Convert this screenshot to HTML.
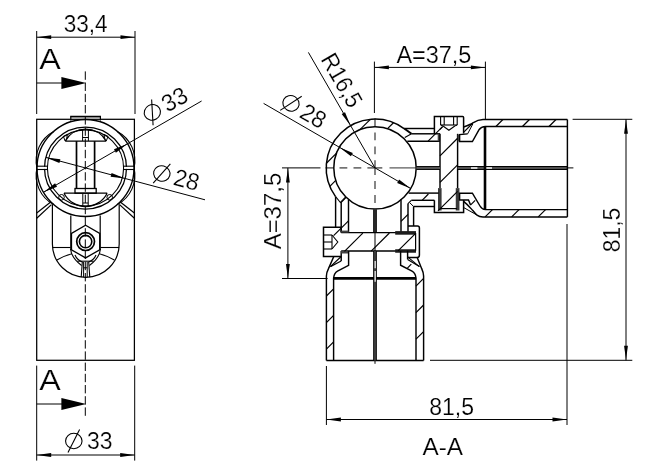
<!DOCTYPE html>
<html><head><meta charset="utf-8"><title>Drawing</title>
<style>html,body{margin:0;padding:0;background:#fff;}svg{display:block;will-change:transform;opacity:0.999}text{font-family:"Liberation Sans",sans-serif;fill:#000;stroke:#fff;stroke-width:0.2px}</style>
</head><body>
<svg width="650" height="473" viewBox="0 0 650 473" stroke="#000" stroke-linecap="butt" fill="none">
<rect x="0" y="0" width="650" height="473" fill="#fff" stroke="none"/>
<g id="left">
<rect x="36.7" y="119.3" width="97.7" height="241.0" stroke-width="1.25" fill="none"/>
<line x1="36.70" y1="31.00" x2="36.70" y2="114.00" stroke-width="1.0" />
<line x1="135.00" y1="31.00" x2="135.00" y2="114.00" stroke-width="1.0" />
<line x1="36.70" y1="37.20" x2="135.00" y2="37.20" stroke-width="1.0" />
<polygon points="36.70,37.20 51.20,35.30 51.20,39.10" fill="#000" stroke="none"/>
<polygon points="135.00,37.20 120.50,39.10 120.50,35.30" fill="#000" stroke="none"/>
<text x="85.70" y="32.20" font-size="24" text-anchor="middle" textLength="44" lengthAdjust="spacingAndGlyphs" >33,4</text>
<text x="39.20" y="69.20" font-size="30" text-anchor="start" textLength="21.5" lengthAdjust="spacingAndGlyphs" >A</text>
<line x1="36.70" y1="83.00" x2="63.00" y2="83.00" stroke-width="1.0" />
<polygon points="61.4,77 86.2,83 61.4,89" fill="#000" stroke="none"/>
<line x1="85.30" y1="415.80" x2="85.30" y2="71.00" stroke-width="1.0" stroke-dasharray="8.4 2.8"/>
<line x1="36.70" y1="365.60" x2="36.70" y2="460.60" stroke-width="1.0" />
<line x1="134.70" y1="365.60" x2="134.70" y2="460.60" stroke-width="1.0" />
<line x1="36.70" y1="455.00" x2="134.70" y2="455.00" stroke-width="1.0" />
<polygon points="36.70,455.00 51.20,453.10 51.20,456.90" fill="#000" stroke="none"/>
<polygon points="134.70,455.00 120.20,456.90 120.20,453.10" fill="#000" stroke="none"/>
<g stroke-width="1.1" fill="none"><ellipse cx="73.80" cy="441.00" rx="8.24" ry="7.72"/><line x1="68.00" y1="452.50" x2="79.60" y2="429.50"/></g>
<text x="87.00" y="449.30" font-size="24" text-anchor="start" textLength="25.5" lengthAdjust="spacingAndGlyphs" >33</text>
<text x="39.20" y="390.20" font-size="30" text-anchor="start" textLength="21.5" lengthAdjust="spacingAndGlyphs" >A</text>
<line x1="36.70" y1="404.00" x2="63.00" y2="404.00" stroke-width="1.0" />
<polygon points="61.4,398 86.2,404 61.4,410" fill="#000" stroke="none"/>
<line x1="70.20" y1="116.60" x2="101.00" y2="116.60" stroke-width="1.7" />
<line x1="70.80" y1="116.60" x2="70.80" y2="120.50" stroke-width="1.2" />
<line x1="100.40" y1="116.60" x2="100.40" y2="120.50" stroke-width="1.2" />
<circle cx="85.50" cy="168.00" r="48.50" stroke-width="1.35" fill="none" />
<path d="M37.00,168.00 A33,33 0 0 1 53.68,131.40" stroke-width="1.15" fill="none" />
<path d="M37.00,168.00 A33,33 0 0 0 53.68,204.60" stroke-width="1.15" fill="none" />
<path d="M134.00,168.00 A33,33 0 0 0 117.32,131.40" stroke-width="1.15" fill="none" />
<path d="M134.00,168.00 A33,33 0 0 1 117.32,204.60" stroke-width="1.15" fill="none" />
<circle cx="85.50" cy="168.00" r="41.00" stroke-width="1.25" fill="none" />
<circle cx="85.50" cy="168.00" r="38.10" stroke-width="1.1" fill="none" />
<rect x="37.8" y="166.8" width="8.799999999999999" height="2.1" fill="#fff" stroke="none"/>
<line x1="37.00" y1="166.20" x2="47.40" y2="166.20" stroke-width="1.1" />
<line x1="37.00" y1="169.50" x2="47.40" y2="169.50" stroke-width="1.1" />
<rect x="124.39999999999999" y="166.8" width="8.800000000000006" height="2.1" fill="#fff" stroke="none"/>
<line x1="123.60" y1="166.20" x2="134.00" y2="166.20" stroke-width="1.1" />
<line x1="123.60" y1="169.50" x2="134.00" y2="169.50" stroke-width="1.1" />
<path d="M65.2,141.1 L106.2,141.1 M65.2,141.1 A23.6,23.6 0 0 1 106.2,141.1" stroke-width="1.3" fill="none" />
<path d="M65.2,141.1 L63.4,136.4 L67.4,134.4 L66.6,138.8 M106.2,141.1 L108,136.4 L104,134.4 L104.8,138.8" stroke-width="1.0" fill="none" />
<line x1="82.60" y1="129.40" x2="82.60" y2="141.00" stroke-width="1.0" />
<line x1="88.40" y1="129.40" x2="88.40" y2="141.00" stroke-width="1.0" />
<line x1="82.60" y1="137.50" x2="88.40" y2="137.50" stroke-width="1.0" />
<line x1="76.50" y1="141.10" x2="76.50" y2="188.60" stroke-width="1.7" />
<line x1="94.60" y1="141.10" x2="94.60" y2="188.60" stroke-width="1.7" />
<rect x="75" y="188.5" width="21.2" height="4.7" stroke-width="1.3" fill="none"/>
<path d="M64,193.2 L107.2,193.2 M64,193.2 A24.2,24.2 0 0 0 107.2,193.2" stroke-width="1.3" fill="none" />
<circle cx="61.50" cy="197.30" r="2.80" stroke-width="1.0" fill="none" />
<circle cx="109.70" cy="197.30" r="2.80" stroke-width="1.0" fill="none" />
<line x1="82.80" y1="193.50" x2="82.80" y2="207.00" stroke-width="1.0" />
<line x1="88.20" y1="193.50" x2="88.20" y2="207.00" stroke-width="1.0" />
<line x1="82.80" y1="203.00" x2="88.20" y2="203.00" stroke-width="1.0" />
<line x1="36.70" y1="213.00" x2="50.40" y2="202.30" stroke-width="1.2" />
<line x1="36.70" y1="218.30" x2="51.40" y2="204.60" stroke-width="1.2" />
<line x1="134.40" y1="213.00" x2="120.60" y2="202.30" stroke-width="1.2" />
<line x1="134.40" y1="218.30" x2="119.60" y2="204.60" stroke-width="1.2" />
<line x1="52.40" y1="204.20" x2="52.40" y2="244.00" stroke-width="1.2" />
<line x1="119.20" y1="204.20" x2="119.20" y2="244.00" stroke-width="1.2" />
<line x1="70.80" y1="215.60" x2="70.80" y2="250.00" stroke-width="1.2" />
<line x1="100.20" y1="215.60" x2="100.20" y2="250.00" stroke-width="1.2" />
<path d="M52.4,243.9 A33.4,33.4 0 0 0 119.2,243.9" stroke-width="1.2" fill="none" />
<line x1="52.40" y1="247.50" x2="70.60" y2="247.50" stroke-width="1.1" />
<line x1="100.40" y1="247.50" x2="119.20" y2="247.50" stroke-width="1.1" />
<path d="M56.9,260 A56.4,56.4 0 0 1 72,253.8" stroke-width="1.1" fill="none" />
<path d="M99.2,253.8 A56.4,56.4 0 0 1 114.3,260" stroke-width="1.1" fill="none" />
<polygon points="85.60,225.30 99.72,233.45 99.72,249.75 85.60,257.90 71.48,249.75 71.48,233.45" stroke-width="1.3" fill="none" />
<circle cx="85.60" cy="241.60" r="8.90" stroke-width="1.7" fill="none" />
<circle cx="85.60" cy="241.60" r="6.20" stroke-width="1.6" fill="none" />
<path d="M70.6,249 Q71.5,258 81.6,265.5" stroke-width="1.1" fill="none" />
<path d="M100.4,249 Q99.5,258 89.4,265.5" stroke-width="1.1" fill="none" />
<path d="M75,255 Q77,260 82.4,262" stroke-width="1.1" fill="none" />
<path d="M96,255 Q94,260 88.6,262" stroke-width="1.1" fill="none" />
<line x1="77.20" y1="261.20" x2="93.60" y2="261.20" stroke-width="1.1" />
<polyline points="82.30,262.00 81.20,277.20" stroke-width="1.1" fill="none" />
<polyline points="88.70,262.00 89.80,277.20" stroke-width="1.1" fill="none" />
<line x1="83.60" y1="262.00" x2="83.60" y2="277.20" stroke-width="1.0" />
<line x1="87.20" y1="262.00" x2="87.20" y2="277.20" stroke-width="1.0" />
<line x1="83.60" y1="267.80" x2="87.20" y2="267.80" stroke-width="1.0" />
<line x1="43.50" y1="192.25" x2="201.60" y2="101.00" stroke-width="1.0" />
<polygon points="43.50,192.25 55.11,183.35 57.01,186.65" fill="#000" stroke="none"/>
<polygon points="127.50,143.75 115.89,152.65 113.99,149.35" fill="#000" stroke="none"/>
<g transform="rotate(-30 149.00 123.50)">
<g stroke-width="1.1" fill="none"><ellipse cx="157.50" cy="115.50" rx="8.24" ry="7.72"/><line x1="151.70" y1="127.00" x2="163.30" y2="104.00"/></g>
<text x="170.50" y="123.50" font-size="24" text-anchor="start" textLength="25.5" lengthAdjust="spacingAndGlyphs" >33</text>
</g>
<line x1="45.90" y1="157.39" x2="205.00" y2="199.80" stroke-width="1.0" />
<polygon points="45.90,157.39 60.39,159.31 59.41,162.98" fill="#000" stroke="none"/>
<polygon points="125.10,178.61 110.61,176.69 111.59,173.02" fill="#000" stroke="none"/>
<g transform="rotate(15 151.50 179.00)">
<g stroke-width="1.1" fill="none"><ellipse cx="160.00" cy="171.00" rx="8.24" ry="7.72"/><line x1="154.20" y1="182.50" x2="165.80" y2="159.50"/></g>
<text x="173.00" y="179.00" font-size="24" text-anchor="start" textLength="25.5" lengthAdjust="spacingAndGlyphs" >28</text>
</g>
</g>
<g id="right">
<line x1="325.50" y1="167.90" x2="333.30" y2="167.90" stroke-width="1.3" stroke="#444"/>
<line x1="339.50" y1="167.90" x2="347.30" y2="167.90" stroke-width="1.3" stroke="#444"/>
<line x1="353.50" y1="167.90" x2="361.30" y2="167.90" stroke-width="1.3" stroke="#444"/>
<line x1="367.40" y1="167.90" x2="382.30" y2="167.90" stroke-width="1.3" stroke="#444"/>
<line x1="389.50" y1="167.90" x2="417.00" y2="167.90" stroke-width="1.1" stroke="#444"/>
<line x1="567.00" y1="167.90" x2="573.40" y2="167.90" stroke-width="1.0" />
<line x1="375.00" y1="118.50" x2="375.00" y2="126.30" stroke-width="1.3" stroke="#444"/>
<line x1="375.00" y1="132.50" x2="375.00" y2="140.30" stroke-width="1.3" stroke="#444"/>
<line x1="375.00" y1="146.50" x2="375.00" y2="154.30" stroke-width="1.3" stroke="#444"/>
<line x1="375.00" y1="160.30" x2="375.00" y2="174.90" stroke-width="1.3" stroke="#444"/>
<line x1="375.00" y1="181.10" x2="375.00" y2="188.90" stroke-width="1.3" stroke="#444"/>
<line x1="375.00" y1="195.10" x2="375.00" y2="202.90" stroke-width="1.3" stroke="#444"/>
<line x1="375.00" y1="232.00" x2="375.00" y2="252.00" stroke-width="1.0" />
<line x1="375.00" y1="360.00" x2="375.00" y2="363.80" stroke-width="1.0" />
<path d="M404.06,128.69 A48.8,48.8 0 0 0 335.56,196.63" stroke-width="1.5" fill="none" />
<circle cx="375.00" cy="167.90" r="41.20" stroke-width="1.5" fill="none" />
<line x1="326.42" y1="163.23" x2="336.55" y2="153.10" stroke-width="1.2" />
<line x1="360.20" y1="129.45" x2="370.33" y2="119.32" stroke-width="1.2" />
<line x1="329.83" y1="186.37" x2="335.76" y2="180.44" stroke-width="1.2" />
<line x1="387.54" y1="128.66" x2="393.47" y2="122.73" stroke-width="1.2" />
<line x1="340.42" y1="202.33" x2="345.79" y2="196.96" stroke-width="1.2" />
<line x1="404.20" y1="128.50" x2="434.40" y2="128.50" stroke-width="1.45" />
<line x1="404.20" y1="128.50" x2="411.50" y2="133.80" stroke-width="2.0" />
<line x1="411.50" y1="133.80" x2="440.00" y2="133.80" stroke-width="1.45" />
<line x1="411.50" y1="133.80" x2="404.80" y2="137.60" stroke-width="1.1" />
<line x1="407.30" y1="141.30" x2="439.80" y2="141.30" stroke-width="1.45" />
<line x1="438.90" y1="133.80" x2="438.90" y2="141.30" stroke-width="2.4" stroke="#444"/>
<line x1="442.60" y1="126.70" x2="428.10" y2="141.20" stroke-width="1.2" />
<path d="M434.4,133.8 L434.4,116.5 L462.6,116.5 Q463.6,116.5 463.6,117.5 L463.6,133.6" stroke-width="1.5" fill="none" />
<line x1="440.60" y1="116.50" x2="440.60" y2="125.00" stroke-width="1.1" />
<line x1="444.20" y1="116.50" x2="444.20" y2="125.00" stroke-width="1.1" />
<line x1="453.60" y1="116.50" x2="453.60" y2="125.00" stroke-width="1.1" />
<line x1="457.20" y1="116.50" x2="457.20" y2="125.00" stroke-width="1.1" />
<line x1="440.60" y1="125.00" x2="457.20" y2="125.00" stroke-width="1.1" />
<polyline points="443.00,126.00 448.90,130.20 454.80,126.00" stroke-width="1.1" fill="none" />
<line x1="440.60" y1="125.00" x2="443.00" y2="126.00" stroke-width="1.0" />
<line x1="457.20" y1="125.00" x2="454.80" y2="126.00" stroke-width="1.0" />
<line x1="440.00" y1="133.80" x2="440.00" y2="188.00" stroke-width="1.45" />
<line x1="457.60" y1="133.80" x2="457.60" y2="188.00" stroke-width="1.45" />
<line x1="439.80" y1="188.10" x2="439.80" y2="210.50" stroke-width="3.6" stroke="#3a3a3a"/>
<line x1="457.60" y1="188.10" x2="457.60" y2="210.50" stroke-width="3.7" stroke="#3a3a3a"/>
<line x1="458.70" y1="134.50" x2="458.70" y2="141.40" stroke-width="2.2" stroke="#444"/>
<line x1="457.60" y1="138.25" x2="440.00" y2="155.85" stroke-width="1.2" />
<line x1="457.60" y1="164.80" x2="440.00" y2="182.40" stroke-width="1.2" />
<line x1="457.60" y1="191.35" x2="438.00" y2="210.95" stroke-width="1.2" />
<line x1="442.60" y1="126.70" x2="440.00" y2="129.30" stroke-width="1.2" />
<line x1="416.40" y1="168.00" x2="440.00" y2="168.00" stroke-width="3.9" />
<line x1="416.40" y1="168.00" x2="440.00" y2="168.00" stroke-width="1.2" stroke="#8a8a8a"/>
<line x1="457.60" y1="168.00" x2="567.40" y2="168.00" stroke-width="4.0" />
<line x1="457.60" y1="168.00" x2="567.40" y2="168.00" stroke-width="1.5" stroke="#6a6a6a"/>
<line x1="457.60" y1="168.00" x2="567.40" y2="168.00" stroke="#fff" stroke-width="1.5" stroke-dasharray="0 13.4 6.4 8.1 6.5 300"/>
<path d="M567.4,119.5 L483,119.5 C477,119.6 474.5,122 471,124 C468,125.5 466.5,126.2 463.6,127" stroke-width="1.45" fill="none" />
<path d="M567.4,126.5 L485.5,126.5 C481.5,126.6 480.5,127.5 479.2,129.5 L472.4,141.5 L459.6,141.5 L459.6,134.6 L467.6,133.9" stroke-width="1.45" fill="none" />
<line x1="485.00" y1="126.50" x2="485.00" y2="209.20" stroke-width="2.6" />
<line x1="567.40" y1="119.50" x2="567.40" y2="216.90" stroke-width="1.45" />
<line x1="472.60" y1="123.25" x2="463.80" y2="132.05" stroke-width="1.2" />
<line x1="467.60" y1="133.90" x2="472.80" y2="124.00" stroke-width="1.0" />
<line x1="502.90" y1="119.50" x2="495.90" y2="126.50" stroke-width="1.2" />
<line x1="529.45" y1="119.50" x2="522.45" y2="126.50" stroke-width="1.2" />
<line x1="556.00" y1="119.50" x2="549.00" y2="126.50" stroke-width="1.2" />
<path d="M567.4,216.9 L483,216.9 C477.5,216.8 475.5,214 472.8,210.5 C470,207.5 466.5,203.5 463.6,201.3" stroke-width="1.45" fill="none" />
<path d="M567.4,209.6 L485.5,209.6 C482.5,209.5 481.2,208 480,206 L472.4,193.2 L459.6,193.2 L459.6,200 L468.5,200 L470.6,205" stroke-width="1.45" fill="none" />
<line x1="475.20" y1="200.30" x2="470.40" y2="205.10" stroke-width="1.2" />
<line x1="463.60" y1="207.50" x2="476.00" y2="214.50" stroke-width="1.0" />
<line x1="492.45" y1="209.60" x2="485.15" y2="216.90" stroke-width="1.2" />
<line x1="519.00" y1="209.60" x2="511.70" y2="216.90" stroke-width="1.2" />
<line x1="545.55" y1="209.60" x2="538.25" y2="216.90" stroke-width="1.2" />
<path d="M434.4,200.3 L434.4,212.4 L463.6,212.4 L463.6,200" stroke-width="1.5" fill="none" />
<line x1="441.00" y1="208.60" x2="457.00" y2="208.60" stroke-width="1.2" />
<line x1="408.60" y1="193.10" x2="438.70" y2="193.10" stroke-width="1.45" />
<line x1="411.30" y1="200.30" x2="434.40" y2="200.30" stroke-width="1.45" />
<line x1="413.60" y1="206.50" x2="434.40" y2="206.50" stroke-width="1.45" />
<line x1="411.30" y1="200.30" x2="408.00" y2="203.60" stroke-width="1.1" />
<line x1="413.60" y1="206.50" x2="410.00" y2="203.00" stroke-width="1.0" />
<line x1="428.40" y1="194.00" x2="422.10" y2="200.30" stroke-width="1.2" />
<line x1="401.00" y1="199.40" x2="401.00" y2="232.60" stroke-width="1.45" />
<line x1="408.00" y1="203.60" x2="408.00" y2="232.60" stroke-width="1.45" />
<line x1="413.60" y1="206.50" x2="413.60" y2="226.00" stroke-width="1.45" />
<line x1="408.00" y1="214.40" x2="401.00" y2="221.40" stroke-width="1.2" />
<line x1="335.60" y1="196.60" x2="335.60" y2="227.30" stroke-width="1.45" />
<line x1="341.20" y1="202.60" x2="341.20" y2="232.60" stroke-width="1.45" />
<line x1="348.50" y1="199.60" x2="348.50" y2="232.60" stroke-width="1.45" />
<line x1="335.60" y1="196.60" x2="340.80" y2="203.00" stroke-width="1.1" />
<line x1="340.80" y1="203.00" x2="345.80" y2="197.60" stroke-width="1.1" />
<line x1="348.50" y1="220.80" x2="333.60" y2="235.70" stroke-width="1.2" />
<line x1="375.00" y1="209.40" x2="375.00" y2="232.60" stroke-width="3.7" />
<line x1="375.00" y1="209.40" x2="375.00" y2="232.60" stroke-width="0.6" stroke="#888"/>
<path d="M341.2,227.3 L323.5,227.3 L323.5,256.5 L341.2,256.5" stroke-width="1.5" fill="none" />
<line x1="341.20" y1="232.60" x2="415.60" y2="232.60" stroke-width="1.45" />
<line x1="341.20" y1="250.90" x2="415.60" y2="250.90" stroke-width="1.45" />
<line x1="341.20" y1="227.30" x2="341.20" y2="232.60" stroke-width="1.45" />
<line x1="341.20" y1="250.90" x2="341.20" y2="261.00" stroke-width="1.45" />
<line x1="323.50" y1="235.00" x2="332.00" y2="235.00" stroke-width="1.1" />
<line x1="323.50" y1="242.00" x2="332.00" y2="242.00" stroke-width="1.1" />
<line x1="323.50" y1="249.00" x2="332.00" y2="249.00" stroke-width="1.1" />
<line x1="332.00" y1="235.00" x2="332.00" y2="249.00" stroke-width="1.1" />
<polyline points="332.00,235.00 337.80,242.00 332.00,249.00" stroke-width="1.1" fill="none" />
<line x1="341.20" y1="252.20" x2="348.60" y2="252.20" stroke-width="2.6" stroke="#444"/>
<line x1="341.20" y1="231.60" x2="348.60" y2="231.60" stroke-width="2.0" stroke="#444"/>
<line x1="395.20" y1="232.90" x2="416.00" y2="232.90" stroke-width="3.6" stroke="#1c1c1c"/>
<line x1="395.20" y1="251.00" x2="416.00" y2="251.00" stroke-width="3.5" stroke="#1c1c1c"/>
<line x1="362.80" y1="233.05" x2="344.50" y2="251.35" stroke-width="1.2" />
<line x1="389.40" y1="233.00" x2="371.20" y2="251.20" stroke-width="1.2" />
<line x1="415.40" y1="233.55" x2="398.00" y2="250.95" stroke-width="1.2" />
<path d="M408,226 L417.5,226 Q419.4,226 419.4,228 L419.4,255 Q419.4,257.4 417.5,257.4 L407.6,257.4" stroke-width="1.5" fill="none" />
<line x1="415.60" y1="233.00" x2="415.60" y2="250.70" stroke-width="1.2" />
<path d="M348.6,251 L348.6,265.4 L337.5,271.2 C335,272.6 334,274 333.6,278" stroke-width="1.45" fill="none" />
<path d="M333.8,256.5 L328.6,268.4 C327,271.5 326.4,273 326.4,276 L326.4,360.4" stroke-width="1.45" fill="none" />
<line x1="341.20" y1="256.50" x2="330.40" y2="266.60" stroke-width="1.2" />
<line x1="341.20" y1="261.00" x2="330.40" y2="266.60" stroke-width="1.2" />
<path d="M400.6,251 L400.6,265.2 L412,271.2 C414.5,272.6 415.6,274 416,278" stroke-width="1.45" fill="none" />
<path d="M417,257 L421.6,268.4 C423,271.5 423.6,273 423.6,276 L423.6,360.4" stroke-width="1.45" fill="none" />
<line x1="407.60" y1="250.70" x2="407.60" y2="259.40" stroke-width="1.45" />
<line x1="407.60" y1="259.40" x2="419.40" y2="266.60" stroke-width="1.2" />
<line x1="407.60" y1="256.80" x2="419.40" y2="266.60" stroke-width="1.1" />
<line x1="411.30" y1="264.20" x2="407.40" y2="268.10" stroke-width="1.2" />
<line x1="333.60" y1="278.30" x2="416.00" y2="278.30" stroke-width="2.7" />
<line x1="333.60" y1="278.00" x2="333.60" y2="360.40" stroke-width="1.45" />
<line x1="416.00" y1="278.00" x2="416.00" y2="360.40" stroke-width="1.45" />
<line x1="326.40" y1="360.40" x2="423.60" y2="360.40" stroke-width="1.45" />
<line x1="375.00" y1="251.00" x2="375.00" y2="360.40" stroke-width="3.7" />
<line x1="375.00" y1="251.00" x2="375.00" y2="360.40" stroke-width="1.3" stroke="#5a5a5a"/>
<line x1="375.20" y1="261.00" x2="375.20" y2="268.30" stroke-width="1.5" stroke="#d8d8d8"/>
<line x1="375.20" y1="271.00" x2="375.20" y2="281.70" stroke-width="1.5" stroke="#d8d8d8"/>
<line x1="333.60" y1="288.80" x2="326.40" y2="296.00" stroke-width="1.2" />
<line x1="333.60" y1="315.35" x2="326.40" y2="322.55" stroke-width="1.2" />
<line x1="333.60" y1="341.90" x2="326.40" y2="349.10" stroke-width="1.2" />
<line x1="423.60" y1="278.45" x2="416.00" y2="286.05" stroke-width="1.2" />
<line x1="423.60" y1="305.00" x2="416.00" y2="312.60" stroke-width="1.2" />
<line x1="423.60" y1="331.55" x2="416.00" y2="339.15" stroke-width="1.2" />
<line x1="374.40" y1="61.60" x2="374.40" y2="113.00" stroke-width="1.0" />
<line x1="485.40" y1="61.60" x2="485.40" y2="119.40" stroke-width="1.0" />
<line x1="374.40" y1="67.40" x2="485.40" y2="67.40" stroke-width="1.0" />
<polygon points="374.40,67.40 388.90,65.50 388.90,69.30" fill="#000" stroke="none"/>
<polygon points="485.40,67.40 470.90,69.30 470.90,65.50" fill="#000" stroke="none"/>
<text x="396.40" y="63.00" font-size="24" text-anchor="start" textLength="75" lengthAdjust="spacingAndGlyphs" >A=37,5</text>
<line x1="282.00" y1="167.90" x2="320.50" y2="167.90" stroke-width="1.0" />
<line x1="282.00" y1="278.50" x2="327.60" y2="278.50" stroke-width="1.0" />
<line x1="287.90" y1="167.90" x2="287.90" y2="278.50" stroke-width="1.0" />
<polygon points="287.90,167.90 289.80,182.40 286.00,182.40" fill="#000" stroke="none"/>
<polygon points="287.90,278.50 286.00,264.00 289.80,264.00" fill="#000" stroke="none"/>
<text x="281.20" y="249.30" font-size="24" text-anchor="start" transform="rotate(-90 281.20 249.30)" textLength="76.5" lengthAdjust="spacingAndGlyphs" >A=37,5</text>
<line x1="572.60" y1="119.30" x2="632.30" y2="119.30" stroke-width="1.0" />
<line x1="430.00" y1="360.30" x2="632.30" y2="360.30" stroke-width="1.0" />
<line x1="626.00" y1="119.30" x2="626.00" y2="360.30" stroke-width="1.0" />
<polygon points="626.00,119.30 627.90,133.80 624.10,133.80" fill="#000" stroke="none"/>
<polygon points="626.00,360.30 624.10,345.80 627.90,345.80" fill="#000" stroke="none"/>
<text x="620.00" y="252.30" font-size="24" text-anchor="start" transform="rotate(-90 620.00 252.30)" textLength="44.5" lengthAdjust="spacingAndGlyphs" >81,5</text>
<line x1="326.40" y1="366.00" x2="326.40" y2="425.00" stroke-width="1.0" />
<line x1="567.00" y1="224.00" x2="567.00" y2="425.00" stroke-width="1.0" />
<line x1="326.40" y1="419.50" x2="567.00" y2="419.50" stroke-width="1.0" />
<polygon points="326.40,419.50 340.90,417.60 340.90,421.40" fill="#000" stroke="none"/>
<polygon points="567.00,419.50 552.50,421.40 552.50,417.60" fill="#000" stroke="none"/>
<text x="429.20" y="414.50" font-size="24" text-anchor="start" textLength="44.8" lengthAdjust="spacingAndGlyphs" >81,5</text>
<text x="422.40" y="455.00" font-size="24" text-anchor="start" textLength="40.6" lengthAdjust="spacingAndGlyphs" >A-A</text>
<line x1="308.40" y1="52.40" x2="375.00" y2="167.90" stroke-width="1.0" />
<polygon points="350.60,125.64 341.70,114.03 345.00,112.13" fill="#000" stroke="none"/>
<text x="320.20" y="59.20" font-size="24" text-anchor="start" transform="rotate(60 320.20 59.20)" textLength="58" lengthAdjust="spacingAndGlyphs" >R16,5</text>
<line x1="263.60" y1="103.40" x2="410.68" y2="188.50" stroke-width="1.0" />
<polygon points="339.32,147.30 352.83,152.90 350.93,156.20" fill="#000" stroke="none"/>
<polygon points="410.68,188.50 397.17,182.90 399.07,179.60" fill="#000" stroke="none"/>
<g transform="rotate(30 279.60 106.00)">
<g stroke-width="1.1" fill="none"><ellipse cx="288.10" cy="98.00" rx="8.24" ry="7.72"/><line x1="282.30" y1="109.50" x2="293.90" y2="86.50"/></g>
<text x="301.10" y="106.00" font-size="24" text-anchor="start" textLength="25.5" lengthAdjust="spacingAndGlyphs" >28</text>
</g>
</g>
</svg>
</body></html>
